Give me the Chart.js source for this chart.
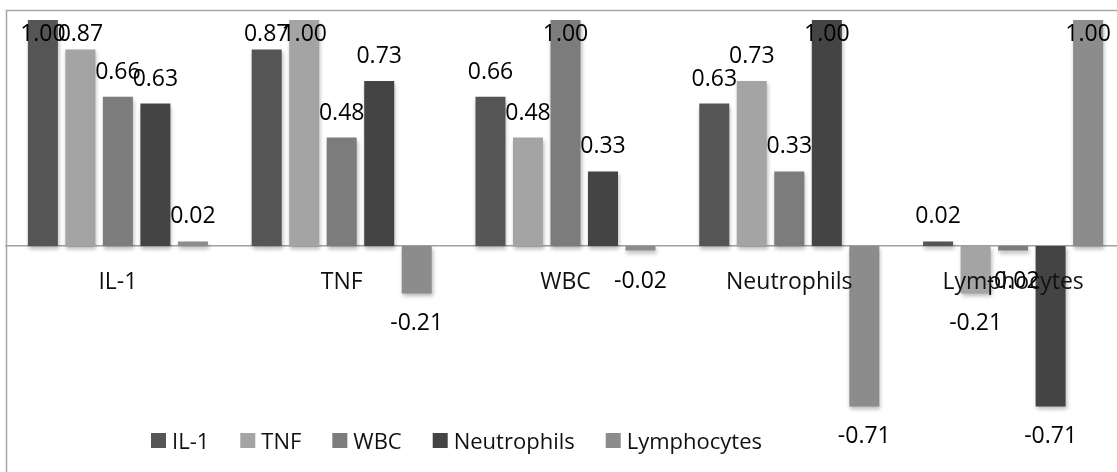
<!DOCTYPE html>
<html>
<head>
<meta charset="utf-8">
<script src="https://cdn.jsdelivr.net/npm/chart.js@4/dist/chart.umd.min.js"></script>
<style>
  body { margin: 0; background: #fff; overflow: hidden; }
</style>
</head>
<body>
<canvas id="chart" width="1130" height="480"></canvas>
<script>
/* data */

// categories on the x axis
var categories = ["IL-1", "TNF", "WBC", "Neutrophils", "Lymphocytes"];

// one list per series (correlation values)
var il1 = [1.00, 0.87, 0.66, 0.63, 0.02];
var tnf = [0.87, 1.00, 0.48, 0.73, -0.21];
var wbc = [0.66, 0.48, 1.00, 0.33, -0.02];
var neutrophils = [0.63, 0.73, 0.33, 1.00, -0.71];
var lymphocytes = [0.02, -0.21, -0.02, -0.71, 1.00];

var seriesNames = ["IL-1", "TNF", "WBC", "Neutrophils", "Lymphocytes"];
var seriesValues = [il1, tnf, wbc, neutrophils, lymphocytes];
var seriesColors = ["#555555", "#a4a4a4", "#7c7c7c", "#444444", "#8c8c8c"];

var FONT = "'Open Sans', sans-serif";
var FONT_SIZE = 23;

/* little plugin: frame, bar shadows, value labels, legend */
var excelLook = {
  id: "excelLook",
  beforeDatasetsDraw: function(chart) {
    var ctx = chart.ctx;
    ctx.save();
    ctx.shadowColor = "rgba(0,0,0,0.28)";
    ctx.shadowBlur = 4;
    ctx.shadowOffsetX = 1;
    ctx.shadowOffsetY = 3;
  },
  afterDatasetsDraw: function(chart) {
    var ctx = chart.ctx;
    ctx.restore();

    // value labels
    var top = chart.chartArea.top;
    ctx.save();
    ctx.font = FONT_SIZE + "px " + FONT;
    ctx.fillStyle = "#000";
    ctx.textAlign = "center";
    ctx.textBaseline = "alphabetic";
    chart.data.datasets.forEach(function(ds, i) {
      var meta = chart.getDatasetMeta(i);
      meta.data.forEach(function(bar, j) {
        var v = ds.data[j];
        var mid;
        if (v >= 0) {
          mid = Math.max(bar.y - 26, top + 13);
        } else {
          mid = bar.y + 29;
        }
        ctx.fillText(v.toFixed(2), bar.x, mid + 8);
      });
    });
    ctx.restore();
  },
  afterDraw: function(chart) {
    var ctx = chart.ctx;
    ctx.save();
    // chart frame
    ctx.strokeStyle = "#a8a8a8";
    ctx.lineWidth = 1.5;
    ctx.beginPath();
    ctx.moveTo(6.5, chart.height + 5);
    ctx.lineTo(6.5, 10.5);
    ctx.lineTo(chart.width + 5, 10.5);
    ctx.stroke();

    // legend
    ctx.font = "22px " + FONT;
    ctx.textBaseline = "alphabetic";
    ctx.textAlign = "left";
    var x = 151;
    var cy = 441;
    chart.data.datasets.forEach(function(ds) {
      ctx.fillStyle = ds.backgroundColor;
      ctx.fillRect(x, cy - 8, 15, 15);
      ctx.fillStyle = "#111";
      ctx.fillText(ds.label, x + 21, cy + 8);
      x += 21 + ctx.measureText(ds.label).width + 31;
    });
    ctx.restore();
  }
};

var datasets = seriesNames.map(function(name, i) {
  return {
    label: name,
    data: seriesValues[i],
    backgroundColor: seriesColors[i],
    borderWidth: 0,
    categoryPercentage: 0.838,
    barPercentage: 0.8
  };
});

new Chart(document.getElementById("chart"), {
  type: "bar",
  data: {
    labels: categories,
    datasets: datasets
  },
  options: {
    responsive: false,
    animation: false,
    layout: {
      padding: { left: 6, right: 5, top: 20, bottom: 8 }
    },
    plugins: {
      legend: { display: false },
      tooltip: { enabled: false }
    },
    scales: {
      x: {
        position: { y: 0 },
        grid: { display: false, drawTicks: false },
        border: { display: true, color: "#a0a0a0", width: 1.5 },
        ticks: {
          z: 1,
          color: "#111",
          padding: 23,
          font: { family: FONT, size: FONT_SIZE }
        }
      },
      y: {
        display: false,
        min: -1,
        max: 1
      }
    }
  },
  plugins: [excelLook]
});
</script>
</body>
</html>
